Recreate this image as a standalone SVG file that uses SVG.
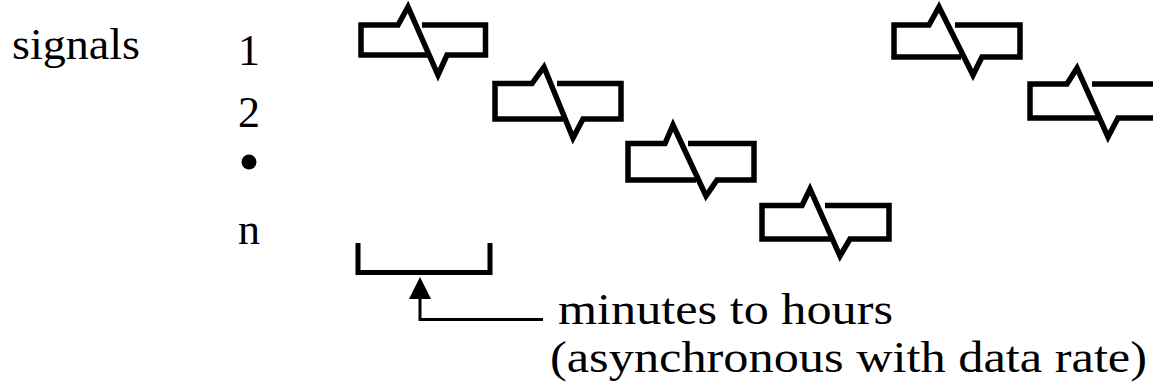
<svg xmlns="http://www.w3.org/2000/svg" width="1153" height="389" viewBox="0 0 1153 389">
<style>
.bg{fill:#fff}
.sig{fill:none;stroke:#000;stroke-width:5.5;stroke-linejoin:miter;stroke-linecap:butt}
.lbl{font-family:"Liberation Serif","Times New Roman",serif;font-size:44px;fill:#000}
.num{text-anchor:middle}
.br{fill:none;stroke:#000;stroke-width:5}
.con{fill:none;stroke:#000;stroke-width:3}
</style>
<defs>
<marker id="arr" markerUnits="userSpaceOnUse" markerWidth="22" markerHeight="22" refX="14" refY="11" orient="auto">
<path d="M0,0 L22,11 L0,22 Z" fill="#000"/>
</marker>
</defs>
<rect class="bg" x="0" y="0" width="1153" height="389"/>
<g id="labels">
<text class="lbl" x="12" y="59" textLength="128" lengthAdjust="spacingAndGlyphs">signals</text>
<text class="lbl num" x="249" y="65">1</text>
<text class="lbl num" x="249" y="127">2</text>
<circle cx="249" cy="162" r="7.5" fill="#000"/>
<text class="lbl num" x="249" y="244">n</text>
</g>
<g id="signal-1a"><path class="sig" d="M428,55 H361 V25 H398 L408,7 L438,75 L447,55 H485.5 V25 H422"/></g>
<g id="signal-2a"><path class="sig" d="M563,119 H495 V83.5 H532 L544,67 L573,138 L583,119 H621 V83.5 H557"/></g>
<g id="signal-3"><path class="sig" d="M696,180 H628 V143.5 H665 L673,125 L706,196 L717,180 H754 V143.5 H688"/></g>
<g id="signal-n"><path class="sig" d="M831,239 H762 V205.5 H802 L810,189 L840,256 L850,239 H889 V205.5 H825"/></g>
<g id="signal-1b"><path class="sig" d="M961,57 H894 V25 H929 L939,7 L973,75 L982,57 H1020 V25 H955"/></g>
<g id="signal-2b"><path class="sig" d="M1098,118 H1030 V84 H1067 L1077,68 L1108,137 L1118,118 H1162 V84 H1092"/></g>
<g id="interval"><path class="br" d="M358,243 V272.5 H490 V243"/></g>
<g id="note">
<text class="lbl" x="558" y="324" textLength="335" lengthAdjust="spacingAndGlyphs">minutes to hours</text>
<text class="lbl" x="550" y="372" textLength="597" lengthAdjust="spacingAndGlyphs">(asynchronous with data rate)</text>
</g>
<g id="connectors">
<path class="con" d="M543,319.5 H420 V285" marker-end="url(#arr)"/>
</g>
</svg>
